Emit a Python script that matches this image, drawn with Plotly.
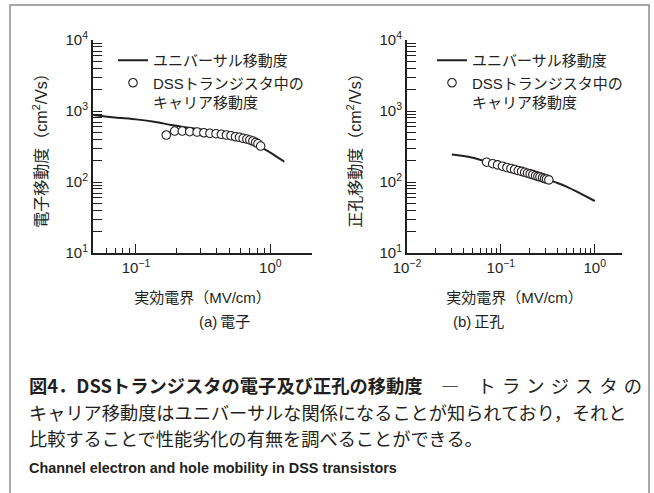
import plotly.graph_objects as go

W, H = 654, 493

# ---- data -------------------------------------------------------------
# electrons: universal mobility curve (MV/cm, cm^2/Vs)
elec_univ_field = [0.048, 0.07, 0.1, 0.14, 0.183, 0.25, 0.35, 0.5, 0.65, 0.8, 0.91, 1.05, 1.27]
elec_univ_mob = [880, 810, 762, 700, 635, 580, 520, 445, 380, 325, 288, 245, 193]
# electrons: measured DSS transistor mobility
elec_dss_field = [0.168, 0.194, 0.221, 0.251, 0.285, 0.320, 0.355, 0.394, 0.432, 0.471,
                  0.509, 0.550, 0.589, 0.627, 0.668, 0.704, 0.741, 0.777, 0.809, 0.847]
elec_dss_mob = [459, 522, 522, 511, 506, 494, 485, 479, 470, 459,
                449, 434, 426, 413, 403, 391, 378, 362, 346, 321]

# holes: universal mobility curve
hole_univ_field = [0.03, 0.04, 0.05, 0.07, 0.1, 0.15, 0.2, 0.3, 0.4, 0.5, 0.7, 1.0]
hole_univ_mob = [244, 232, 219, 194, 170, 146, 130, 110, 97, 86, 69, 54]
# holes: measured DSS transistor mobility
hole_dss_field = [0.0705, 0.0817, 0.0923, 0.104, 0.116, 0.128, 0.140, 0.153, 0.166, 0.179,
                  0.192, 0.205, 0.219, 0.234, 0.248, 0.261, 0.278, 0.292, 0.306, 0.324]
hole_dss_mob = [190, 181, 174, 167, 160, 155, 150, 145, 141, 137,
                133, 130, 127, 123, 120, 118, 115, 112, 110, 107]

# axis ticks
y_tickvals = [10, 100, 1000, 10000]
y_ticktext = ["10<sup>1</sup>", "10<sup>2</sup>", "10<sup>3</sup>", "10<sup>4</sup>"]
xa_tickvals = [0.1, 1]
xa_ticktext = ["10<sup>\u22121</sup>", "10<sup>0</sup>"]
xb_tickvals = [0.01, 0.1, 1]
xb_ticktext = ["10<sup>\u22122</sup>", "10<sup>\u22121</sup>", "10<sup>0</sup>"]

legend_line_name = "ユニバーサル移動度"
legend_dot_name = "DSSトランジスタ中の<br>キャリア移動度"

# ---- styling ------------------------------------------------------------
INK = "#231f20"
LATIN = "Liberation Sans, Arial, Noto Sans CJK JP"
JP = "Liberation Sans, Noto Sans CJK JP"


def minor_vals(decades):
    """Positions 2..9 x 10^e for each decade exponent e."""
    return [m * 10.0 ** e for e in decades for m in range(2, 10)]


def px_x(p):
    return p / W


def px_y(p):
    return 1 - p / H


fig = go.Figure()

line_style = dict(color=INK, width=2, shape="spline", smoothing=0.6)
dot_style = dict(symbol="circle", size=8.5, color="white", line=dict(color=INK, width=1.1))

fig.add_trace(go.Scatter(x=elec_univ_field, y=elec_univ_mob, mode="lines", line=line_style,
                         name=legend_line_name, xaxis="x", yaxis="y", legend="legend"))
fig.add_trace(go.Scatter(x=elec_dss_field, y=elec_dss_mob, mode="markers", marker=dot_style,
                         name=legend_dot_name, xaxis="x", yaxis="y", legend="legend"))
fig.add_trace(go.Scatter(x=hole_univ_field, y=hole_univ_mob, mode="lines", line=line_style,
                         name=legend_line_name, xaxis="x2", yaxis="y2", legend="legend2"))
fig.add_trace(go.Scatter(x=hole_dss_field, y=hole_dss_mob, mode="markers", marker=dot_style,
                         name=legend_dot_name, xaxis="x2", yaxis="y2", legend="legend2"))

common_axis = dict(type="log", showline=True, linecolor=INK, linewidth=2,
                   ticks="inside", tickcolor=INK, tickwidth=1.2, automargin=False,
                   showgrid=False, zeroline=False, mirror=False,
                   tickfont=dict(family=LATIN, size=15, color=INK))

y_minor = dict(tickvals=minor_vals([1, 2, 3]), ticks="inside", ticklen=9,
               tickcolor=INK, tickwidth=1.2, showgrid=False)
x_title_font = dict(family=JP, size=15, color=INK)
y_title_font = dict(family=JP, size=16, color=INK)
legend_font = dict(family=JP, size=15, color=INK)

fig.update_layout(
    template="none",
    width=W, height=H, margin=dict(l=0, r=0, t=0, b=0, autoexpand=False),
    paper_bgcolor="white", plot_bgcolor="white",
    xaxis=dict(common_axis, domain=[px_x(93), px_x(312)], range=[-1.32, 0.31], anchor="y",
               tickmode="array", tickvals=xa_tickvals, ticktext=xa_ticktext, ticklen=9,
               minor=dict(tickvals=[0.06, 0.07, 0.08, 0.09] + minor_vals([-1]),
                          ticks="inside", ticklen=5, tickcolor=INK, tickwidth=1.2,
                          showgrid=False),
               title=dict(text="実効電界（MV/cm）", font=x_title_font, standoff=17)),
    yaxis=dict(common_axis, domain=[px_y(253), px_y(40)], range=[1, 4], anchor="x",
               tickmode="array", tickvals=y_tickvals, ticktext=y_ticktext, ticklen=9,
               minor=y_minor,
               title=dict(text="電子移動度（cm<sup>2</sup>/Vs）", font=y_title_font,
                          standoff=14)),
    xaxis2=dict(common_axis, domain=[px_x(407), px_x(622)], range=[-2, 0.29], anchor="y2",
                tickmode="array", tickvals=xb_tickvals, ticktext=xb_ticktext, ticklen=9,
                minor=dict(tickvals=minor_vals([-2, -1]), ticks="inside", ticklen=5,
                           tickcolor=INK, tickwidth=1.2, showgrid=False),
                title=dict(text="実効電界（MV/cm）", font=x_title_font, standoff=17)),
    yaxis2=dict(common_axis, domain=[px_y(253), px_y(40)], range=[1, 4], anchor="x2",
                tickmode="array", tickvals=y_tickvals, ticktext=y_ticktext, ticklen=9,
                minor=y_minor,
                title=dict(text="正孔移動度（cm<sup>2</sup>/Vs）", font=y_title_font,
                           standoff=14)),
    legend=dict(x=px_x(113), y=px_y(44), xanchor="left", yanchor="top",
                bgcolor="rgba(0,0,0,0)", valign="top", tracegroupgap=0, font=legend_font),
    legend2=dict(x=px_x(432), y=px_y(44), xanchor="left", yanchor="top",
                 bgcolor="rgba(0,0,0,0)", valign="top", tracegroupgap=0, font=legend_font),
    showlegend=True,
)

# panel labels
fig.add_annotation(x=px_x(197), y=px_y(321), xref="paper", yref="paper", showarrow=False,
                   text="(a)\u2009電子", font=dict(family=JP, size=15, color=INK))
fig.add_annotation(x=px_x(506), y=px_y(321), xref="paper", yref="paper", showarrow=False,
                   text="(b)\u2009正孔", font=dict(family=JP, size=15, color=INK))

# caption
SP = "\u2004"
caption = [
    ("<b>図4．DSSトランジスタの電子及び正孔の移動度</b>\u2003―\u2003"
     + SP.join("トランジスタの"), 385, 18.3),
    ("キャリア移動度はユニバーサルな関係になることが知られており，それと", 412, 18.2),
    ("比較することで性能劣化の有無を調べることができる。", 438, 18.2),
]
for text, yc, size in caption:
    fig.add_annotation(x=px_x(27), y=px_y(yc), xref="paper", yref="paper", showarrow=False,
                       xanchor="left", yanchor="middle", text=text,
                       font=dict(family="Noto Sans CJK JP", size=size, color=INK))
fig.add_annotation(x=px_x(27), y=px_y(468), xref="paper", yref="paper", showarrow=False,
                   xanchor="left", yanchor="middle",
                   text="<b>Channel electron and hole mobility in DSS transistors</b>",
                   font=dict(family="Liberation Sans, Arial", size=14.4, color=INK))

# frame around the figure (open at the bottom)
fig.add_shape(type="path", xref="paper", yref="paper",
              path=(f"M {px_x(10)},-0.05 L {px_x(10)},{px_y(5)} "
                    f"L {px_x(649)},{px_y(5)} L {px_x(649)},-0.05"),
              line=dict(color="#8c8c8c", width=1.5))

fig.write_html("out.html")
